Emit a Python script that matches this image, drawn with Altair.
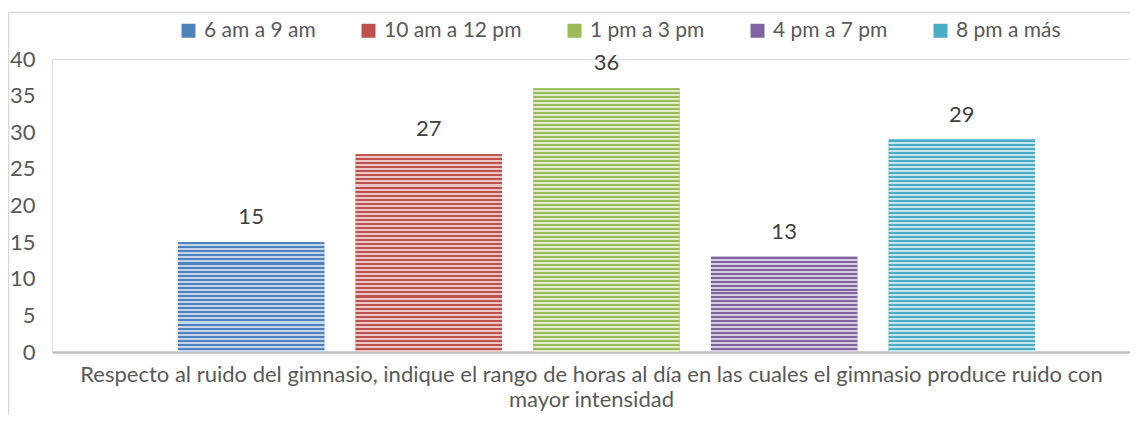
import altair as alt
import pandas as pd

series = ["6 am a 9 am", "10 am a 12 pm", "1 pm a 3 pm", "4 pm a 7 pm", "8 pm a más"]
values = [15, 27, 36, 13, 29]
colors = ["#4F81BD", "#C0504D", "#9BBB59", "#8064A2", "#4BACC6"]
y_ticks = [0, 5, 10, 15, 20, 25, 30, 35, 40]
x_title = ["Respecto al ruido del gimnasio, indique el rango de horas al día en las cuales el gimnasio produce ruido con",
           "mayor intensidad"]

FONT = "Lato"
FS = 22
W, H = 1078, 293
df = pd.DataFrame({"serie": series, "valor": values})


def lighten(hexc, f=0.68):
    r, g, b = int(hexc[1:3], 16), int(hexc[3:5], 16), int(hexc[5:7], 16)
    r, g, b = [int(c + (255 - c) * f) for c in (r, g, b)]
    return "#%02x%02x%02x" % (r, g, b)


def stripes(col, v):
    h = v * H / 40.0
    n = max(1, round(h / 4.0))
    light = lighten(col)
    stops = []
    for i in range(n):
        a, m, b = i / n, (i + 0.5) / n, (i + 1) / n
        stops += [{"offset": a, "color": col}, {"offset": m, "color": col},
                  {"offset": m, "color": light}, {"offset": b, "color": light}]
    return {"gradient": "linear", "x1": 0, "y1": 0, "x2": 0, "y2": 1, "stops": stops}


xscale = alt.Scale(domain=series, paddingInner=0.1765, paddingOuter=0.622, align=0.57)
yscale = alt.Scale(domain=[0, 40])

x_enc = alt.X("serie:N", sort=series, scale=xscale,
              axis=alt.Axis(labels=False, ticks=False, title=x_title, titleFontSize=FS,
                            titleFont=FONT, titleColor="#595959", titleFontWeight="normal",
                            titleLineHeight=25, titlePadding=12, titleBaseline="top",
                            domainColor="#BFBFBF", domainWidth=2.5))
y_enc = alt.Y("valor:Q", scale=yscale,
              axis=alt.Axis(values=y_ticks, grid=False, domain=False, ticks=False, title=None,
                            labelOverlap=False, labelFontSize=FS, labelFont=FONT,
                            labelColor="#595959", labelPadding=17))

base = alt.Chart(df).mark_bar().encode(
    x=x_enc, y=y_enc,
    color=alt.Color("serie:N", sort=series, scale=alt.Scale(domain=series, range=colors),
                    legend=alt.Legend(title=None, orient="none", direction="horizontal",
                                      legendX=126, legendY=-39, symbolType="square", symbolSize=196,
                                      symbolStrokeWidth=0, labelFontSize=21, labelFont=FONT,
                                      labelColor="#595959", columnPadding=42, labelOffset=5))
)

layers = [base]
for s, v, c in zip(series, values, colors):
    layers.append(
        alt.Chart(df).transform_filter(alt.datum.serie == s).mark_bar(color=stripes(c, v)).encode(
            x=x_enc, y=y_enc)
    )

labels = alt.Chart(df).mark_text(font=FONT, fontSize=FS, color="#404040", dy=-18,
                                 baseline="alphabetic").encode(
    x=x_enc, y=y_enc, text="valor:Q")

one = pd.DataFrame({"a": [0]})
frame_top = alt.Chart(one).mark_rule(color="#D9D9D9", strokeWidth=1.5).encode(
    x=alt.value(-43.5), x2=alt.value(W + 60), y=alt.value(-46.5))
frame_left = alt.Chart(one).mark_rule(color="#D9D9D9", strokeWidth=1.5).encode(
    x=alt.value(-43.5), y=alt.value(-46.5), y2=alt.value(H + 100))

chart = alt.layer(*layers, labels, frame_top, frame_left).properties(
    width=W, height=H,
    autosize=alt.AutoSizeParams(type="none"),
    padding={"left": 44, "top": 51, "right": 0, "bottom": 63},
).configure_view(stroke=None).configure(background="white")

chart.save("out.html", embed_options={"renderer": "svg", "actions": False})
